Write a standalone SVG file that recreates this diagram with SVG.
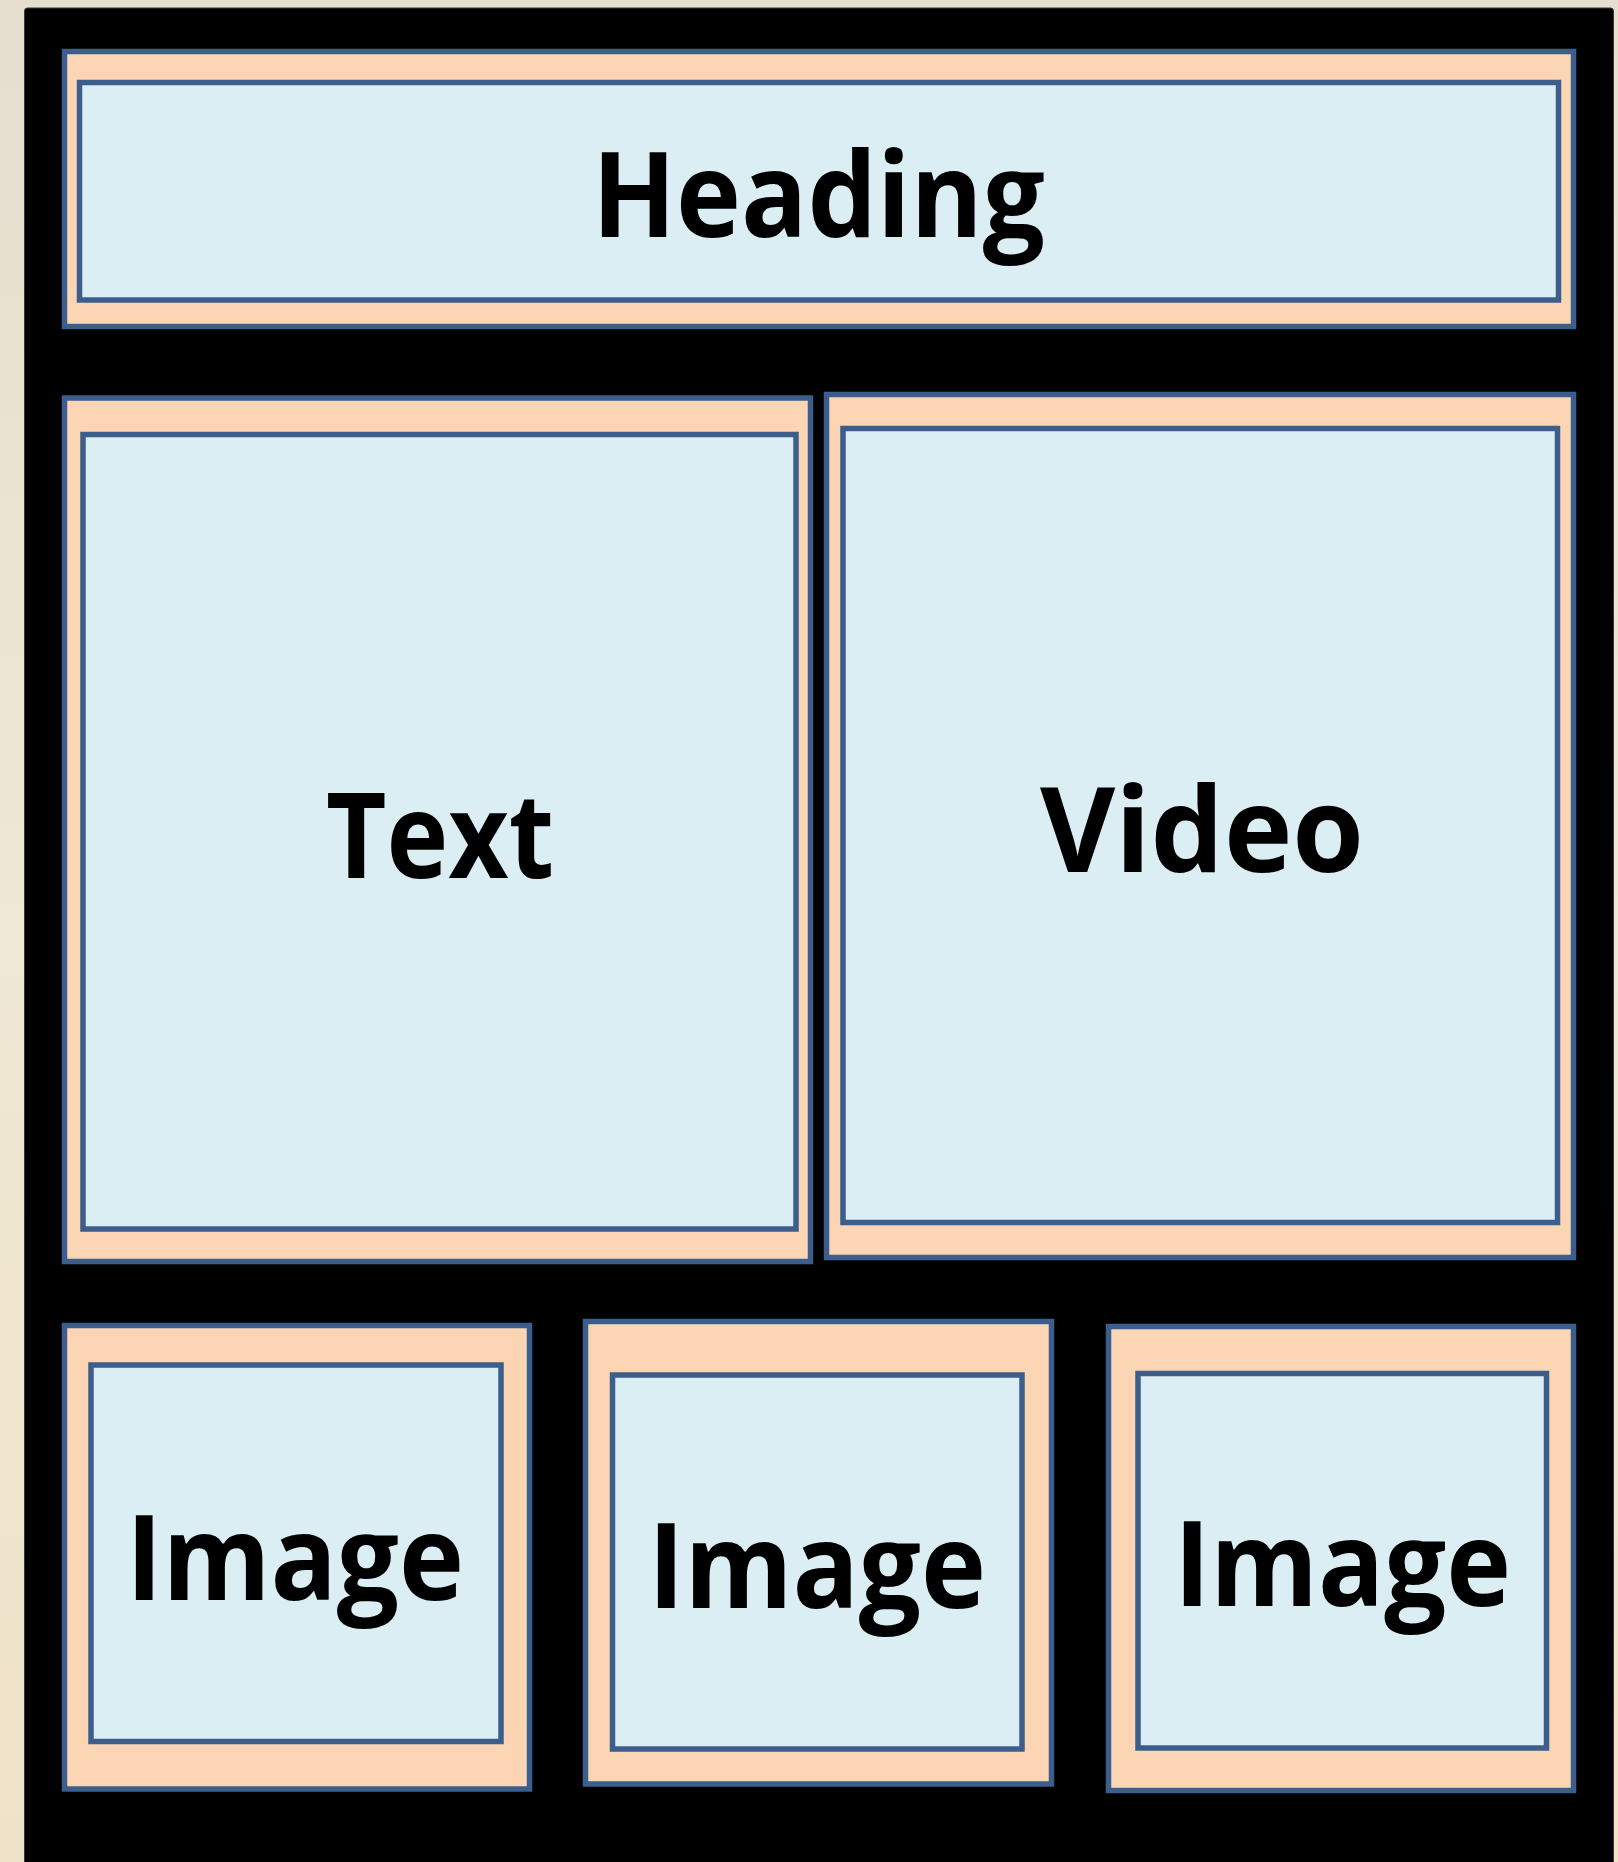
<svg xmlns="http://www.w3.org/2000/svg" width="1618" height="1862" viewBox="0 0 1618 1862">
<defs>
<linearGradient id="bg" x1="0" y1="0" x2="0" y2="1">
<stop offset="0" stop-color="#E6DECF"/>
<stop offset="0.5" stop-color="#EFE8D4"/>
<stop offset="1" stop-color="#F0E2C8"/>
</linearGradient>
</defs>
<style>
.outer{fill:#FCD5B5;stroke:#3B5E8C;stroke-width:5.5}
.inner{fill:#DAEEF3;stroke:#3B5E8C;stroke-width:5.5}
.lbl{font-family:"Open Sans","Liberation Sans",sans-serif;font-weight:700;font-size:118px;fill:#000}
</style>
<rect x="0" y="0" width="1618" height="1862" fill="url(#bg)"/>
<rect x="24.5" y="8" width="1589" height="1870" rx="3" fill="#000" stroke="#3a3a3a" stroke-width="1"/>
<g id="heading">
<rect class="outer" x="64.5" y="51.5" width="1509" height="275"/>
<rect class="inner" x="79.5" y="82.5" width="1479" height="217.5"/>
<text class="lbl" x="592" y="237" textLength="453" lengthAdjust="spacingAndGlyphs">Heading</text>
</g>
<g id="text">
<rect class="outer" x="64.5" y="398" width="746" height="863.5"/>
<rect class="inner" x="83" y="434.5" width="713" height="794.5"/>
<text class="lbl" x="326" y="878" textLength="228" lengthAdjust="spacingAndGlyphs">Text</text>
</g>
<g id="video">
<rect class="outer" x="826.5" y="394.5" width="747" height="863"/>
<rect class="inner" x="843" y="428.5" width="714.5" height="794"/>
<text class="lbl" x="1040" y="872" textLength="324" lengthAdjust="spacingAndGlyphs">Video</text>
</g>
<g id="image1">
<rect class="outer" x="64.5" y="1325.5" width="465" height="463.5"/>
<rect class="inner" x="91" y="1365" width="410" height="376.5"/>
<text class="lbl" x="126" y="1600" textLength="338" lengthAdjust="spacingAndGlyphs">Image</text>
</g>
<g id="image2">
<rect class="outer" x="585.5" y="1321.5" width="466" height="462.5"/>
<rect class="inner" x="612.5" y="1375" width="409.5" height="374"/>
<text class="lbl" x="648" y="1608" textLength="338" lengthAdjust="spacingAndGlyphs">Image</text>
</g>
<g id="image3">
<rect class="outer" x="1108.5" y="1326.5" width="465" height="464"/>
<rect class="inner" x="1138" y="1373.5" width="408.5" height="374.5"/>
<text class="lbl" x="1174" y="1606" textLength="337" lengthAdjust="spacingAndGlyphs">Image</text>
</g>
<g id="connectors"/>
</svg>
